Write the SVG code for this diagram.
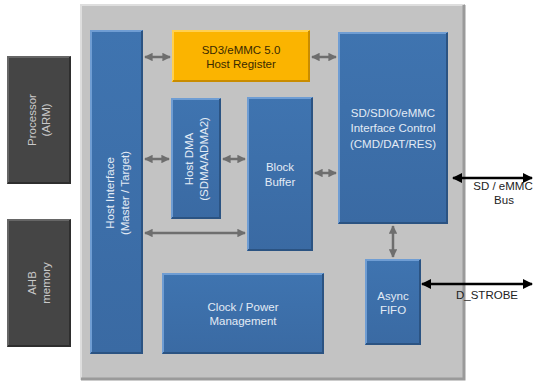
<svg xmlns="http://www.w3.org/2000/svg" width="544" height="387" viewBox="0 0 544 387">
<defs>
<marker id="ag" viewBox="0 0 10 10" refX="9" refY="5" markerWidth="3.4" markerHeight="3.4" orient="auto-start-reverse" markerUnits="strokeWidth"><path d="M0,0 L10,5 L0,10 z" fill="#6e6e6e"/></marker>
<marker id="ab" viewBox="0 0 10 10" refX="9" refY="5" markerWidth="4" markerHeight="4" orient="auto-start-reverse" markerUnits="strokeWidth"><path d="M0,0 L10,5 L0,10 z" fill="#000"/></marker>
<linearGradient id="gb" x1="0" y1="0" x2="0" y2="1"><stop offset="0" stop-color="#3f74b0"/><stop offset="1" stop-color="#3a6aa3"/></linearGradient>
</defs>
<style>
.blue{fill:url(#gb)}
.hl{fill:none;stroke:#6f9dd3;stroke-width:2}
.sh{fill:none;stroke:#2b5382;stroke-width:2}
.dark{fill:#454545}
.dhl{fill:none;stroke:#666;stroke-width:2}
.dsh{fill:none;stroke:#2e2e2e;stroke-width:2}
.org{fill:#fbb400}
.ohl{fill:none;stroke:#ffd050;stroke-width:2}
.osh{fill:none;stroke:#c98c00;stroke-width:2}
text{font-family:"Liberation Sans","Open Sans",sans-serif;font-size:11.5px;text-anchor:middle}
.wt{fill:#e3ebf5}
.gt{fill:#c9c9c9}
.kt{fill:#222}
.ga{stroke:#6e6e6e;stroke-width:2.5;fill:none;marker-start:url(#ag);marker-end:url(#ag)}
.ba{stroke:#000;stroke-width:2.5;fill:none;marker-start:url(#ab);marker-end:url(#ab)}
</style>
<rect width="544" height="387" fill="#fff"/>
<g id="chip">
<rect x="80" y="4" width="385" height="376" fill="#c3c3c3"/>
<path d="M81,380 V5 H464" fill="none" stroke="#dedede" stroke-width="2"/>
<path d="M81,379 H464 V5" fill="none" stroke="#9a9a9a" stroke-width="3"/>
</g>
<g id="processor">
<rect x="7" y="56" width="64" height="128" class="dark"/>
<path d="M8,183 V57 H70" class="dhl"/><path d="M8,183 H70 V57" class="dsh"/>
<text class="gt" transform="translate(39,120) rotate(-90)"><tspan x="0" y="-3">Processor</tspan><tspan x="0" y="11">(ARM)</tspan></text>
</g>
<g id="ahb">
<rect x="7" y="219" width="64" height="128" class="dark"/>
<path d="M8,346 V220 H70" class="dhl"/><path d="M8,346 H70 V220" class="dsh"/>
<text class="gt" transform="translate(39,283) rotate(-90)"><tspan x="0" y="-3">AHB</tspan><tspan x="0" y="11">memory</tspan></text>
</g>
<g id="host-if">
<rect x="90" y="30" width="53" height="324" class="blue"/>
<path d="M91,353 V31 H142" class="hl"/><path d="M91,353 H142 V31" class="sh"/>
<text class="wt" transform="translate(117,193) rotate(-90)"><tspan x="0" y="-3">Host Interface</tspan><tspan x="0" y="12">(Master / Target)</tspan></text>
</g>
<g id="host-reg">
<rect x="172" y="30" width="138" height="52" class="org"/>
<path d="M173,81 V31 H309" class="ohl"/><path d="M173,81 H309 V31" class="osh"/>
<text fill="#3a2a00"><tspan x="241" y="54">SD3/eMMC 5.0</tspan><tspan x="241" y="68">Host Register</tspan></text>
</g>
<g id="host-dma">
<rect x="171" y="98" width="50" height="121" class="blue"/>
<path d="M172,218 V99 H220" class="hl"/><path d="M172,218 H220 V99" class="sh"/>
<text class="wt" transform="translate(196,159) rotate(-90)"><tspan x="0" y="-3">Host DMA</tspan><tspan x="0" y="12">(SDMA/ADMA2)</tspan></text>
</g>
<g id="block-buffer">
<rect x="247" y="97" width="66" height="154" class="blue"/>
<path d="M248,250 V98 H312" class="hl"/><path d="M248,250 H312 V98" class="sh"/>
<text class="wt"><tspan x="280" y="171">Block</tspan><tspan x="280" y="186">Buffer</tspan></text>
</g>
<g id="sd-ctrl">
<rect x="338" y="32" width="110" height="192" class="blue"/>
<path d="M339,223 V33 H447" class="hl"/><path d="M339,223 H447 V33" class="sh"/>
<text class="wt"><tspan x="393" y="117">SD/SDIO/eMMC</tspan><tspan x="393" y="132">Interface Control</tspan><tspan x="393" y="148">(CMD/DAT/RES)</tspan></text>
</g>
<g id="clock">
<rect x="162" y="273" width="162" height="81" class="blue"/>
<path d="M163,353 V274 H323" class="hl"/><path d="M163,353 H323 V274" class="sh"/>
<text class="wt"><tspan x="243" y="311">Clock / Power</tspan><tspan x="243" y="325">Management</tspan></text>
</g>
<g id="async-fifo">
<rect x="365" y="259" width="56" height="86" class="blue"/>
<path d="M366,344 V260 H420" class="hl"/><path d="M366,344 H420 V260" class="sh"/>
<text class="wt"><tspan x="393" y="300">Async</tspan><tspan x="393" y="314">FIFO</tspan></text>
</g>
<g id="connectors">
<line class="ga" x1="145" y1="57" x2="170" y2="57"/>
<line class="ga" x1="312" y1="57" x2="336" y2="57"/>
<line class="ga" x1="145" y1="159" x2="169" y2="159"/>
<line class="ga" x1="223" y1="159" x2="245" y2="159"/>
<line class="ga" x1="315" y1="173" x2="336" y2="173"/>
<line class="ga" x1="145" y1="233" x2="245" y2="233"/>
<line class="ga" x1="393" y1="226" x2="393" y2="257"/>
<line class="ba" x1="453" y1="178" x2="532" y2="178"/>
<line class="ba" x1="422" y1="284" x2="532" y2="284"/>
</g>
<text class="kt"><tspan x="503" y="190">SD / eMMC</tspan><tspan x="504" y="204">Bus</tspan></text>
<text class="kt" x="487" y="299">D_STROBE</text>
</svg>
